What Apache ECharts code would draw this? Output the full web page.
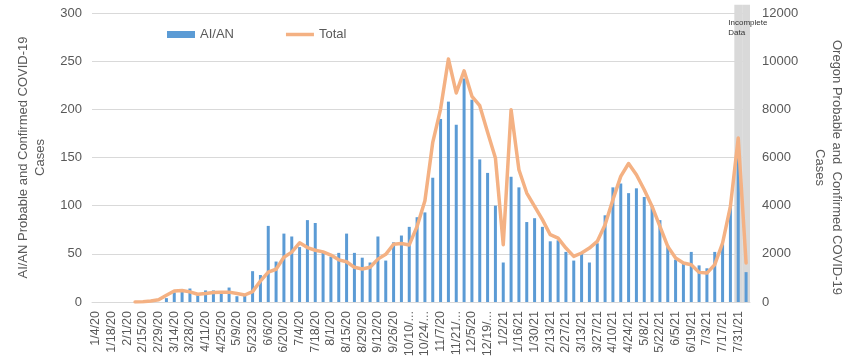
<!DOCTYPE html>
<html><head><meta charset="utf-8">
<script src="https://cdn.jsdelivr.net/npm/echarts@6/dist/echarts.min.js"></script>
<style>html,body{margin:0;padding:0;background:#fff}#c{width:850px;height:361px}</style>
</head><body><div id="c"></div>
<script>
const weeks = [
 '1/4/20','1/11/20','1/18/20','1/25/20','2/1/20','2/8/20','2/15/20','2/22/20','2/29/20','3/7/20',
 '3/14/20','3/21/20','3/28/20','4/4/20','4/11/20','4/18/20','4/25/20','5/2/20','5/9/20','5/16/20',
 '5/23/20','5/30/20','6/6/20','6/13/20','6/20/20','6/27/20','7/4/20','7/11/20','7/18/20','7/25/20',
 '8/1/20','8/8/20','8/15/20','8/22/20','8/29/20','9/5/20','9/12/20','9/19/20','9/26/20','10/3/20',
 '10/10/20','10/17/20','10/24/20','10/31/20','11/7/20','11/14/20','11/21/20','11/28/20','12/5/20','12/12/20',
 '12/19/20','12/26/20','1/2/21','1/9/21','1/16/21','1/23/21','1/30/21','2/6/21','2/13/21','2/20/21',
 '2/27/21','3/6/21','3/13/21','3/20/21','3/27/21','4/3/21','4/10/21','4/17/21','4/24/21','5/1/21',
 '5/8/21','5/15/21','5/22/21','5/29/21','6/5/21','6/12/21','6/19/21','6/26/21','7/3/21','7/10/21',
 '7/17/21','7/24/21','7/31/21','8/7/21'
];
const aianCases = [
 0,0,0,0,0,0,0,0,0,4,
 10,12,14,7,12,12,11,15,6,7,
 32,28,79,42,71,68,57,85,82,51,
 47,51,71,51,46,41,68,43,62,69,
 78,88,93,129,190,208,184,232,210,148,
 134,100,41,130,119,83,87,78,63,64,
 52,43,52,41,61,90,119,123,113,118,
 109,100,85,59,44,40,52,38,35,52,
 60,99,150,31
];
const totalCases = [
 null,null,null,null,null,5,15,40,90,280,
 460,480,420,320,350,390,400,410,350,290,
 430,870,1240,1360,1860,2070,2460,2260,2150,2080,
 1950,1750,1670,1440,1370,1440,1780,1980,2400,2430,
 2370,3140,4200,6630,8010,10090,8680,9600,8540,8150,
 7050,5980,2380,7985,5490,4525,3970,3420,2795,2655,
 2240,1895,2035,2240,2515,3210,4250,5215,5750,5285,
 4660,3970,3140,2310,1825,1620,1550,1230,1200,1550,
 2450,3970,6810,1620
];
const incompleteWeeks = ['7/31/21','8/7/21'];
const incompleteLabel = 'Incomplete\nData';
const leftAxisName = 'AI/AN Probable and Confirmed COVID-19\nCases';
const rightAxisName = 'Oregon Probable and  Confirmed COVID-19\nCases';

const FONT = 'Liberation Sans';
const TXT = '#595959';
const ORANGE = '#F4B183';
const bandData = weeks.map(w => {
  if (!incompleteWeeks.includes(w)) return null;
  if (w === incompleteWeeks[0]) {
    return {value: 1, label: {show: true, formatter: incompleteLabel, position: [-6, 13],
      fontSize: 8, lineHeight: 10, color: '#333', fontFamily: FONT, align: 'left'}};
  }
  return 1;
});

const chart = echarts.init(document.getElementById('c'), null, {renderer: 'canvas'});
chart.setOption({
  animation: false,
  textStyle: {fontFamily: FONT},
  grid: {left: 92, right: 100, top: 13, bottom: 59, containLabel: false, outerBoundsMode: 'none'},
  legend: {
    left: 162, top: 23, itemWidth: 28, itemHeight: 7, itemGap: 52,
    textStyle: {color: TXT, fontSize: 13, fontFamily: FONT},
    data: [{name: 'AI/AN', icon: 'rect'},
           {name: 'Total', icon: 'path://M0,0H28V3.5H0Z', itemStyle: {color: ORANGE}}]
  },
  xAxis: [{
    type: 'category', data: weeks, boundaryGap: true,
    axisLine: {show: true, lineStyle: {color: '#d9d9d9'}},
    axisTick: {show: false},
    axisLabel: {interval: 1, rotate: 90, color: TXT, fontSize: 12.5, fontFamily: FONT, margin: 9,
      formatter: v => v.length > 7 ? v.slice(0, 6) + '...' : v}
  }, {
    type: 'category', data: weeks, show: false, boundaryGap: true
  }],
  yAxis: [{
    type: 'value', min: 0, max: 300, interval: 50, position: 'left',
    name: leftAxisName, nameLocation: 'middle', nameGap: 43, nameRotate: 90,
    nameTextStyle: {color: TXT, fontSize: 13, lineHeight: 17, fontFamily: FONT},
    axisLine: {show: false}, axisTick: {show: false},
    axisLabel: {color: TXT, fontSize: 13, margin: 10, fontFamily: FONT},
    splitLine: {show: true, lineStyle: {color: '#d9d9d9', width: 1}}
  }, {
    type: 'value', min: 0, max: 12000, interval: 2000, position: 'right',
    name: rightAxisName, nameLocation: 'middle', nameGap: 61, nameRotate: -90,
    nameTextStyle: {color: TXT, fontSize: 13, lineHeight: 17, fontFamily: FONT, padding: [0, 0, 0, 20]},
    axisLine: {show: false}, axisTick: {show: false},
    axisLabel: {color: TXT, fontSize: 13, margin: 12, fontFamily: FONT, formatter: v => String(v)},
    splitLine: {show: false}
  }, {
    type: 'value', min: 0, max: 0.972, show: false
  }],
  series: [{
    name: 'Incomplete', type: 'bar', xAxisIndex: 1, yAxisIndex: 2, data: bandData,
    barWidth: '100%', clip: false, z: 1, silent: true,
    itemStyle: {color: '#d9d9d9'}
  }, {
    name: 'AI/AN', type: 'bar', xAxisIndex: 0, yAxisIndex: 0, data: aianCases,
    barWidth: 3, z: 3, itemStyle: {color: '#5B9BD5'}
  }, {
    name: 'Total', type: 'line', xAxisIndex: 0, yAxisIndex: 1, data: totalCases,
    symbol: 'none', z: 4, connectNulls: false,
    lineStyle: {color: ORANGE, width: 3.5, join: 'round', cap: 'round'},
    itemStyle: {color: ORANGE}
  }]
});
</script></body></html>
